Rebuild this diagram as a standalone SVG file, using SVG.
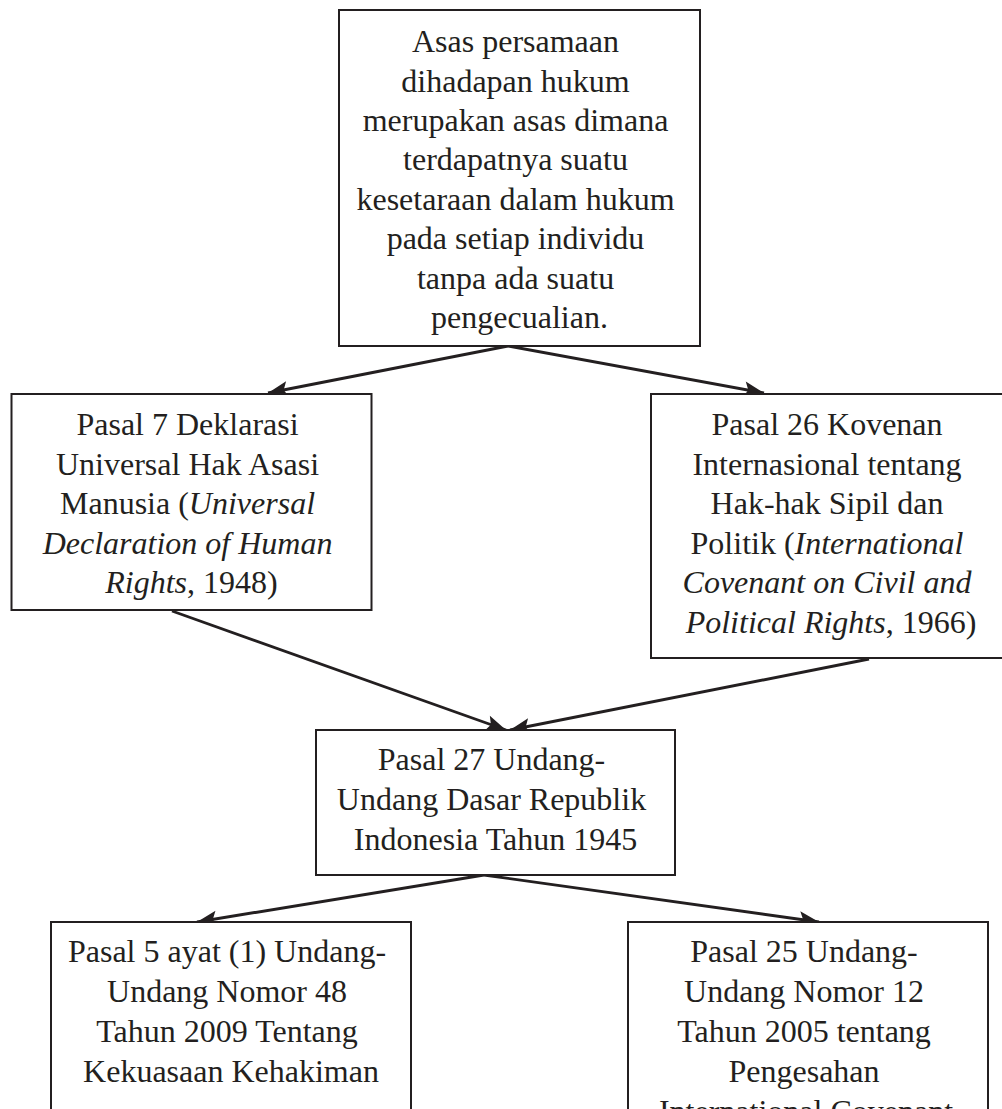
<svg xmlns="http://www.w3.org/2000/svg" width="1002" height="1109" viewBox="0 0 1002 1109">
<style>
.box{fill:#ffffff;stroke:#231f20;stroke-width:2}
.t{font-family:"Liberation Serif","Times New Roman",serif;font-size:32px;fill:#231f20;text-anchor:middle}
.i{font-style:italic}
.c{fill:none;stroke:#231f20;stroke-width:2.9}
</style>
<defs>
<marker id="ah" markerUnits="userSpaceOnUse" markerWidth="24" markerHeight="20" viewBox="0 0 24 20" refX="21" refY="10" orient="auto">
<path d="M1,2 L21,10 L1,18 L5,10 Z" fill="#231f20"/>
</marker>
</defs>
<rect width="1002" height="1109" fill="#ffffff"/>
<g id="connectors">
<line class="c" x1="508" y1="346" x2="268" y2="393" marker-end="url(#ah)"/>
<line class="c" x1="508" y1="346" x2="764" y2="393" marker-end="url(#ah)"/>
<line class="c" x1="172" y1="611" x2="506" y2="730" marker-end="url(#ah)"/>
<line class="c" x1="869" y1="659" x2="510" y2="730" marker-end="url(#ah)"/>
<line class="c" x1="484" y1="875" x2="197" y2="922" marker-end="url(#ah)"/>
<line class="c" x1="484" y1="875" x2="819" y2="922" marker-end="url(#ah)"/>
</g>
<g id="node-asas">
<rect class="box" x="339" y="10" width="361" height="336"/>
<text class="t">
<tspan x="519.5" y="52">Asas persamaan</tspan>
<tspan x="519.5" y="91.5">dihadapan hukum</tspan>
<tspan x="519.5" y="131">merupakan asas dimana</tspan>
<tspan x="519.5" y="170">terdapatnya suatu</tspan>
<tspan x="519.5" y="209.5">kesetaraan dalam hukum</tspan>
<tspan x="519.5" y="249">pada setiap individu</tspan>
<tspan x="519.5" y="288.5">tanpa ada suatu</tspan>
<tspan x="519.5" y="328">pengecualian.</tspan>
</text>
</g>
<g id="node-udhr">
<rect class="box" x="11.5" y="394" width="360" height="216"/>
<text class="t">
<tspan x="191.5" y="435">Pasal 7 Deklarasi</tspan>
<tspan x="191.5" y="474.5">Universal Hak Asasi</tspan>
<tspan x="191.5" y="514">Manusia (<tspan class="i">Universal</tspan></tspan>
<tspan x="191.5" y="553.5" class="i">Declaration of Human</tspan>
<tspan x="191.5" y="593"><tspan class="i">Rights</tspan>, 1948)</tspan>
</text>
</g>
<g id="node-iccpr">
<rect class="box" x="651" y="394" width="360" height="264"/>
<text class="t">
<tspan x="831" y="435">Pasal 26 Kovenan</tspan>
<tspan x="831" y="474.5">Internasional tentang</tspan>
<tspan x="831" y="514">Hak-hak Sipil dan</tspan>
<tspan x="831" y="553.5">Politik (<tspan class="i">International</tspan></tspan>
<tspan x="831" y="593" class="i">Covenant on Civil and</tspan>
<tspan x="831" y="632.5"><tspan class="i">Political Rights</tspan>, 1966)</tspan>
</text>
</g>
<g id="node-uud">
<rect class="box" x="316" y="730" width="359" height="145"/>
<text class="t">
<tspan x="495.5" y="770">Pasal 27 Undang-</tspan>
<tspan x="495.5" y="810">Undang Dasar Republik</tspan>
<tspan x="495.5" y="850">Indonesia Tahun 1945</tspan>
</text>
</g>
<g id="node-uu48">
<rect class="box" x="51" y="922" width="360" height="220"/>
<text class="t">
<tspan x="231" y="962">Pasal 5 ayat (1) Undang-</tspan>
<tspan x="231" y="1002">Undang Nomor 48</tspan>
<tspan x="231" y="1042">Tahun 2009 Tentang</tspan>
<tspan x="231" y="1082">Kekuasaan Kehakiman</tspan>
</text>
</g>
<g id="node-uu12">
<rect class="box" x="628" y="922" width="360" height="240"/>
<text class="t">
<tspan x="808" y="962">Pasal 25 Undang-</tspan>
<tspan x="808" y="1002">Undang Nomor 12</tspan>
<tspan x="808" y="1042">Tahun 2005 tentang</tspan>
<tspan x="808" y="1082">Pengesahan</tspan>
<tspan x="806" y="1122">International Covenant</tspan>
</text>
</g>
</svg>
